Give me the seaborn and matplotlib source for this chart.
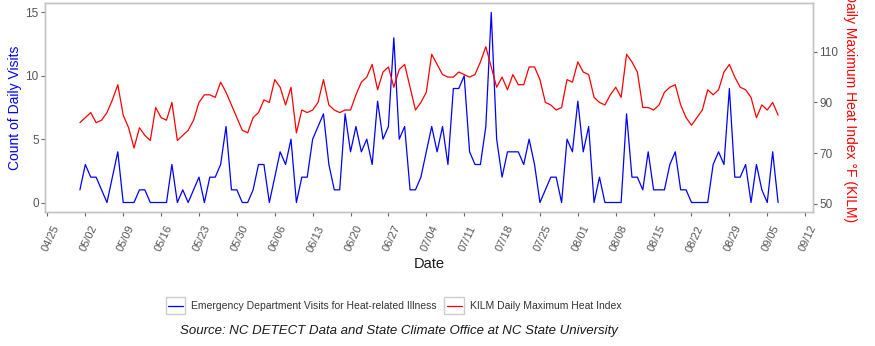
import numpy as np
import pandas as pd
import matplotlib
matplotlib.use("Agg")
import matplotlib.pyplot as plt
from matplotlib.legend_handler import HandlerLine2D
from matplotlib.patches import Rectangle
from matplotlib.lines import Line2D
from matplotlib.transforms import ScaledTranslation
import seaborn as sns

# ---------------- data ----------------
start_date = "2019-05-01"
visits = [1, 3, 2, 2, 1, 0, 2, 4, 0, 0,
          0, 1, 1, 0, 0, 0, 0, 3, 0, 1,
          0, 1, 2, 0, 2, 2, 3, 6, 1, 1,
          0, 0, 1, 3, 3, 0, 2, 4, 3, 5,
          0, 2, 2, 5, 6, 7, 3, 1, 1, 7,
          4, 6, 4, 5, 3, 8, 5, 6, 13, 5,
          6, 1, 1, 2, 4, 6, 4, 6, 3, 9,
          9, 10, 4, 3, 3, 6, 15, 5, 2, 4,
          4, 4, 3, 5, 3, 0, 1, 2, 2, 0,
          5, 4, 8, 4, 6, 0, 2, 0, 0, 0,
          0, 7, 2, 2, 1, 4, 1, 1, 1, 3,
          4, 1, 1, 0, 0, 0, 0, 3, 4, 3,
          9, 2, 2, 3, 0, 3, 1, 0, 4, 0]
heat_index = [82, 84, 86, 82, 83, 86, 91, 97, 85, 80,
              72, 80, 77, 75, 88, 84, 83, 90, 75, 77,
              79, 83, 90, 93, 93, 92, 98, 94, 89, 84,
              79, 78, 84, 86, 91, 90, 99, 96, 89, 96,
              78, 87, 86, 87, 90, 99, 89, 87, 86, 87,
              87, 93, 98, 100, 105, 95, 102, 104, 96, 103,
              105, 96, 87, 90, 94, 109, 105, 101, 100, 100,
              102, 101, 100, 101, 106, 112, 104, 96, 100, 95,
              101, 97, 97, 104, 104, 99, 90, 89, 87, 88,
              99, 98, 106, 102, 101, 92, 90, 89, 93, 96,
              92, 109, 106, 102, 88, 88, 87, 89, 94, 96,
              97, 89, 84, 81, 84, 87, 95, 93, 95, 102,
              105, 100, 96, 95, 92, 84, 89, 87, 90, 85]
tick_start = "2019-04-25"
n_ticks = 21
left_ticks = [0, 5, 10, 15]
right_ticks = [50, 70, 90, 110]
visits_label = "Emergency Department Visits for Heat-related Illness"
heat_label = "KILM Daily Maximum Heat Index"
source_text = "Source: NC DETECT Data and State Climate Office at NC State University"

dates = pd.date_range(start_date, periods=len(visits), freq="D")
df = pd.DataFrame({"date": dates, "visits": visits, "heat": heat_index})
tick_dates = pd.date_range(tick_start, periods=n_ticks, freq="7D")

# ---------------- style ----------------
sns.set_theme(style="white")
plt.rcParams["font.family"] = ["Liberation Sans", "DejaVu Sans"]

W, H = 875, 346
fig = plt.figure(figsize=(W / 100, H / 100), dpi=100)
ax = fig.add_axes([45 / W, 1 - 212 / H, 768 / W, 209 / H])
ax2 = ax.twinx()

sns.lineplot(data=df, x="date", y="visits", ax=ax, color="#0000FF", linewidth=0.9)
sns.lineplot(data=df, x="date", y="heat", ax=ax2, color="#FF0000", linewidth=0.9)

span = (dates[-1] - dates[0]) * 0.05
ax.set_xlim(dates[0] - span, dates[-1] + span)
ax.set_ylim(-0.75, 15.75)
ax2.set_ylim(46.75, 129.25)

ax.set_yticks(left_ticks)
ax2.set_yticks(right_ticks)
ax.set_xticks(tick_dates)
ax.set_xticklabels([d.strftime("%m/%d") for d in tick_dates])

for a in (ax, ax2):
    a.set_xlabel("")
    a.set_ylabel("")
    a.grid(False)
    for s in a.spines.values():
        s.set_color("#C4C4C4")
        s.set_linewidth(1.0)
    a.tick_params(length=3, width=0.8, color="#666666", labelcolor="#555555",
                  labelsize=8.5, pad=1.5)

ax.tick_params(axis="x", bottom=True, pad=5.5, labelsize=8)
ax.tick_params(axis="y", left=True)
ax2.tick_params(axis="y", right=True)
offset = ScaledTranslation(3 / 100, 0, fig.dpi_scale_trans)
for lab in ax.get_xticklabels():
    lab.set_rotation(65)
    lab.set_ha("center")
    lab.set_va("top")
    lab.set_transform(lab.get_transform() + offset)

# axis titles
fig.text(15 / W, 1 - 108 / H, "Count of Daily Visits", rotation=90, color="#0000FF",
         fontsize=10, ha="center", va="center")
fig.text(850 / W, 1 - 107.5 / H, "Daily Maximum Heat Index \u00b0F (KILM)", rotation=270,
         color="#FF0000", fontsize=10, ha="center", va="center")
fig.text(429 / W, 1 - 264 / H, "Date", fontsize=10.5, color="#1a1a1a",
         ha="center", va="center")


# legend with boxed keys
class BoxedLine(HandlerLine2D):
    def create_artists(self, legend, orig_handle, xdescent, ydescent, width, height,
                       fontsize, trans):
        arts = super().create_artists(legend, orig_handle, xdescent, ydescent, width,
                                      height, fontsize, trans)
        ymid = -ydescent + height / 2.0
        for a in arts:
            if isinstance(a, Line2D) and len(np.atleast_1d(a.get_ydata())) > 1:
                a.set_data([-xdescent + 0.12 * width, -xdescent + 0.88 * width],
                           [ymid, ymid])
        rect = Rectangle((-xdescent, -ydescent), width, height, transform=trans,
                         fill=False, edgecolor="#CCCCCC", linewidth=1.0)
        return [rect] + list(arts)


h1 = Line2D([], [], color="#0000FF", linewidth=0.9)
h2 = Line2D([], [], color="#FF0000", linewidth=0.9)
fig.legend([h1, h2], [visits_label, heat_label], ncol=2, frameon=False,
           loc="center", bbox_to_anchor=(393.5 / W, 1 - 305.7 / H),
           fontsize=7.5, handlelength=1.9, handleheight=2.2, handletextpad=0.55,
           columnspacing=0.7, labelcolor="#333333",
           handler_map={Line2D: BoxedLine()})

fig.text(399.4 / W, 1 - 330.7 / H, source_text, fontsize=9.5, style="italic",
         color="#1a1a1a", ha="center", va="center")

fig.savefig("out.png", dpi=100)
